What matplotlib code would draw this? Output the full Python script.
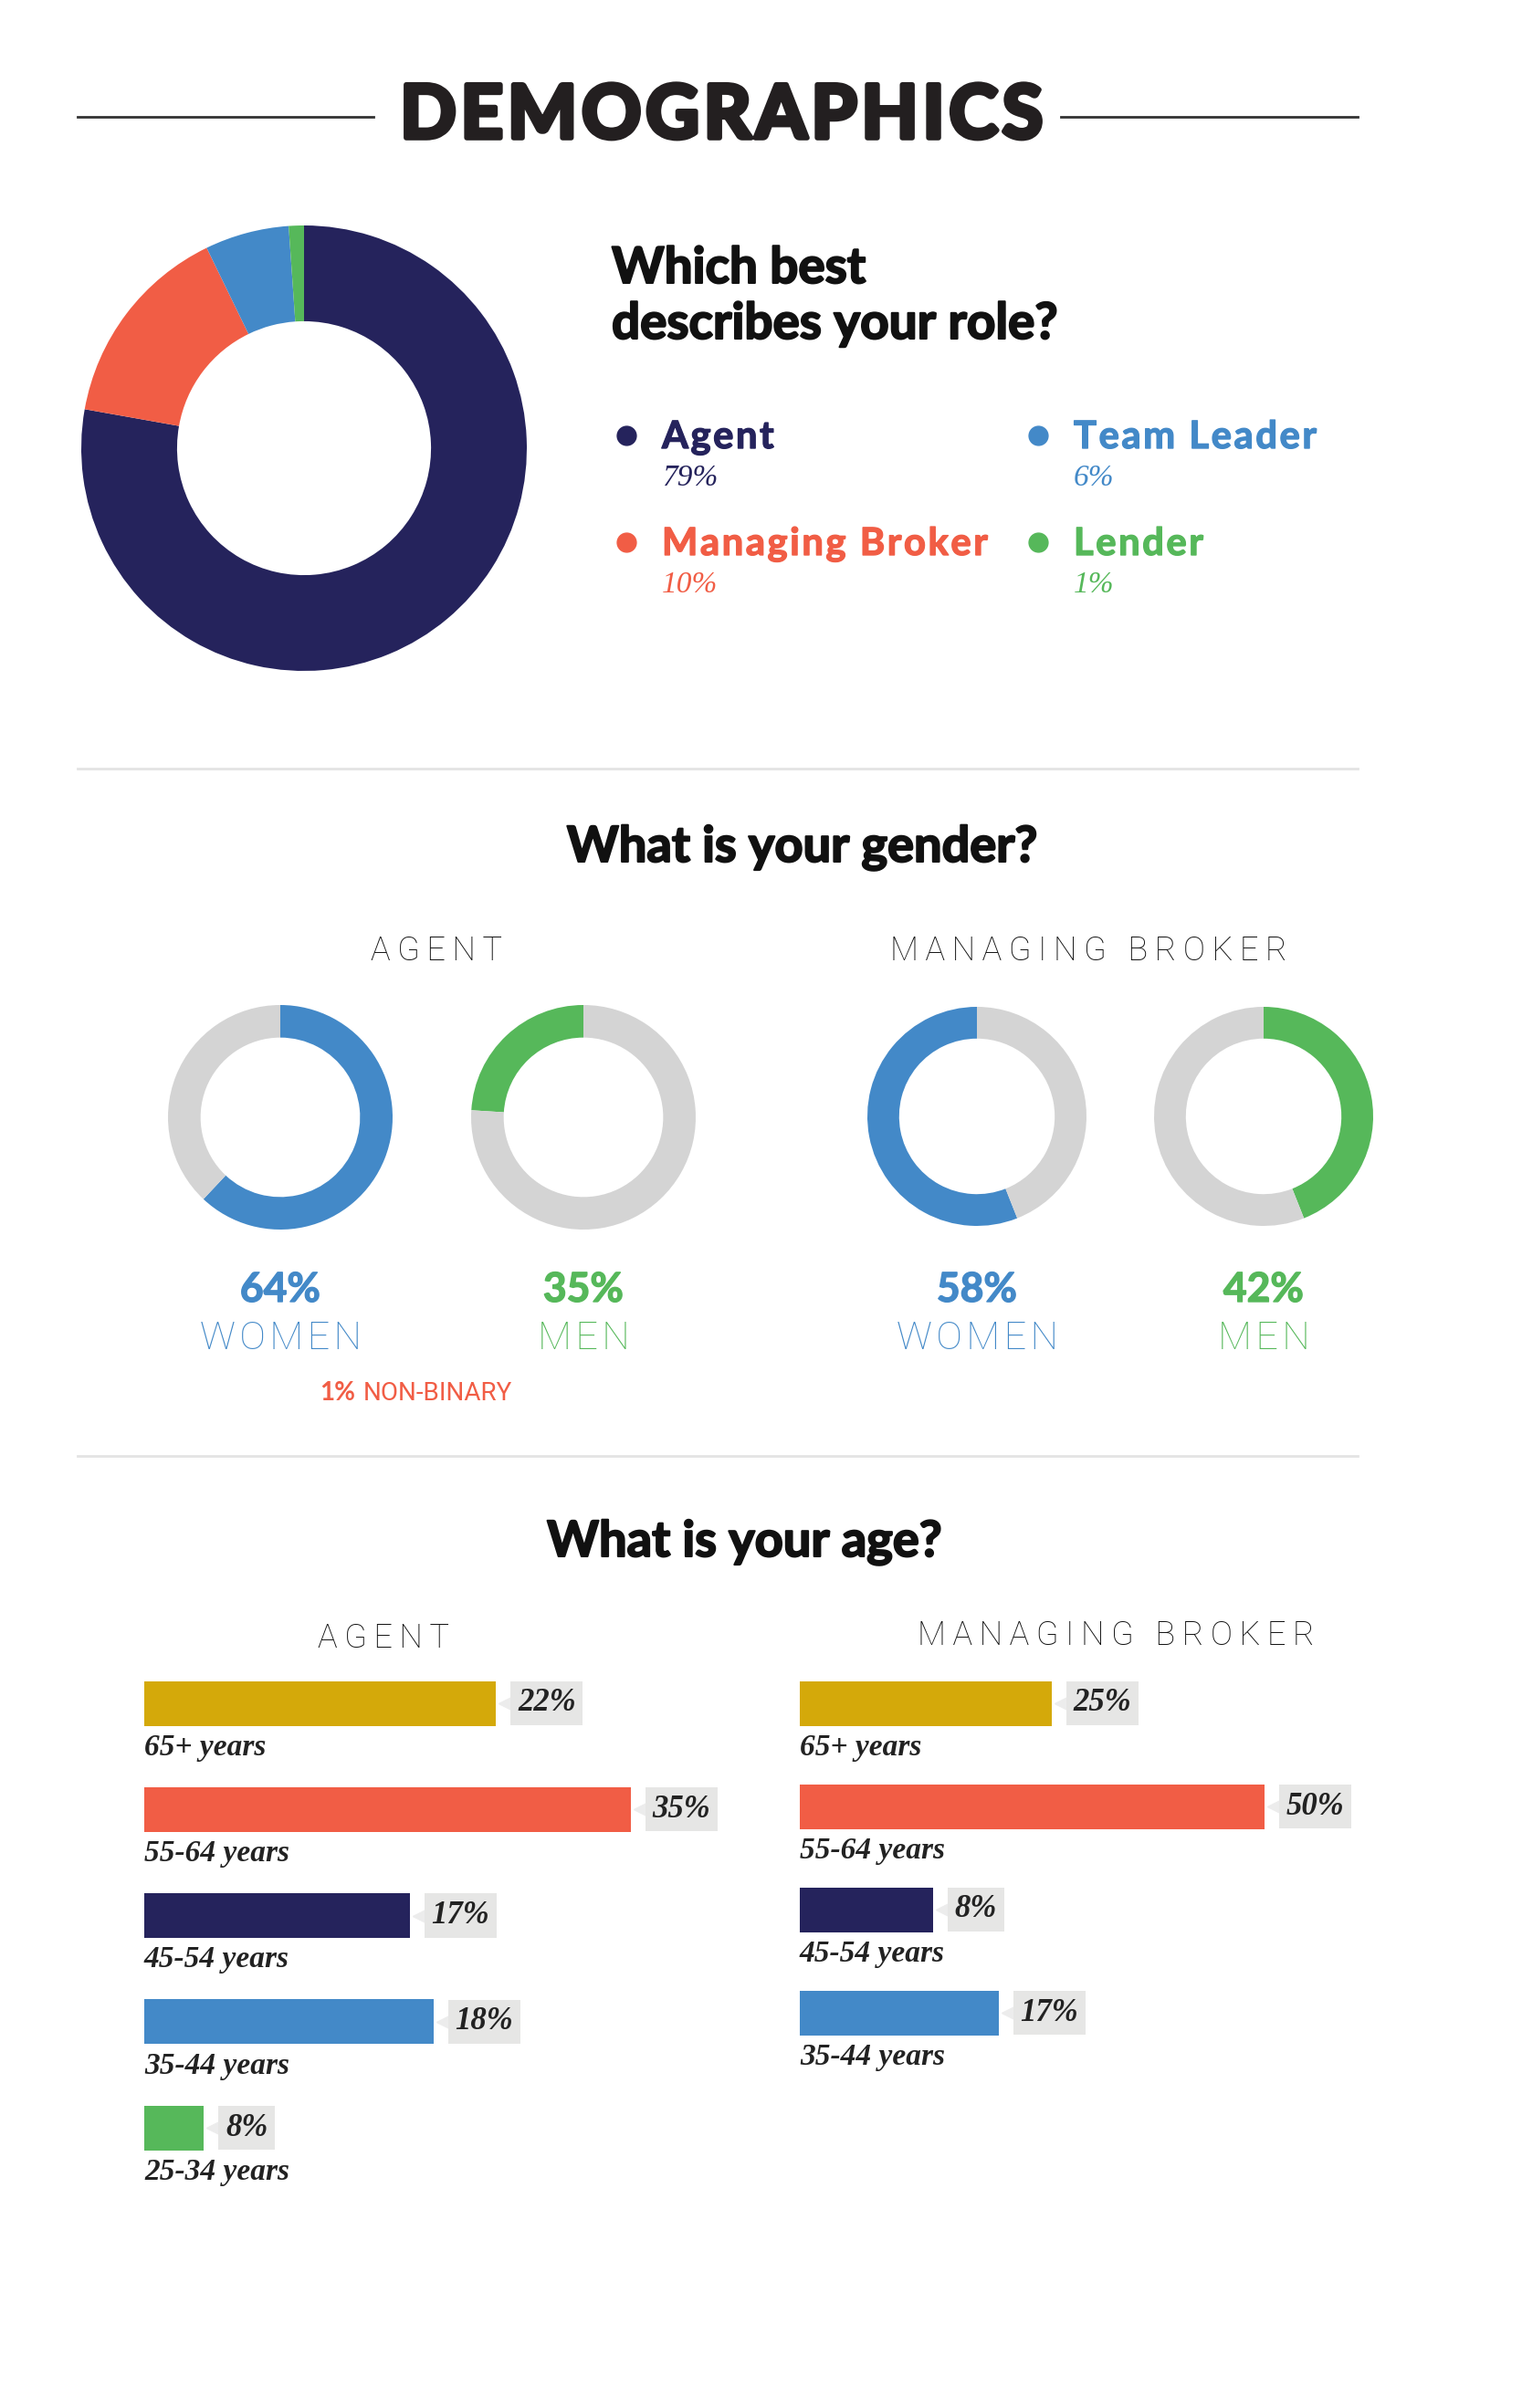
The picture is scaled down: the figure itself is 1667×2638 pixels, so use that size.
import matplotlib
matplotlib.use("Agg")
import matplotlib.pyplot as plt
from matplotlib.lines import Line2D
import matplotlib.patheffects as pe

W, H = 1667, 2638
SANS = ['Lato', 'DejaVu Sans']
LIGHT = ['Roboto', 'DejaVu Sans']
SERIF = ['Liberation Serif', 'DejaVu Serif']

navy = '#25235c'
red = '#f15d45'
blue = '#4389c8'
green = '#56b85a'
gold = '#d4a90a'
ring_gray = '#d4d4d4'
ink = '#111111'

# role question
roles = ['Agent', 'Managing Broker', 'Team Leader', 'Lender']
role_pct = [79, 10, 6, 1]
role_colors = [navy, red, blue, green]
# wedge shares as actually drawn in the source graphic
role_drawn = [77.8, 15.0, 6.1, 1.1]

# gender question
gender_groups = ['AGENT', 'MANAGING BROKER']
women_pct = [64, 58]
men_pct = [35, 42]
women_drawn = [62, 56]
men_drawn = [24, 44]
nonbinary_pct = 1

# age question
agent_ages = ['65+ years', '55-64 years', '45-54 years', '35-44 years', '25-34 years']
agent_age_pct = [22, 35, 17, 18, 8]
agent_age_bar = [25.3, 35.0, 19.1, 20.8, 4.3]   # bar lengths as drawn (not to scale)
broker_ages = ['65+ years', '55-64 years', '45-54 years', '35-44 years']
broker_age_pct = [25, 50, 8, 17]
broker_age_bar = [18.1, 33.4, 9.6, 14.3]
age_colors = [gold, red, navy, blue, green]

fig = plt.figure(figsize=(W / 100, H / 100), dpi=100)


def fx(x):
    return x / W


def fy(y):
    return 1 - y / H


def px_axes(x, y, w, h):
    return fig.add_axes([fx(x), fy(y + h), w / W, h / H])


def hline(x0, x1, y, color, lw):
    fig.add_artist(Line2D([fx(x0), fx(x1)], [fy(y), fy(y)], color=color, lw=lw))


def spaced(s, n=1):
    return ('\u200a' * n).join(s)


def heavy(w, color):
    return [pe.withStroke(linewidth=w, foreground=color)]


# title
fig.text(fx(790), fy(151), spaced('DEMOGRAPHICS'), ha='center', va='baseline',
         fontsize=58, weight='bold', family=SANS, color='#231f20',
         path_effects=heavy(4, '#231f20'))
hline(85, 409, 128, '#333333', 2)
hline(1162, 1487, 128, '#333333', 2)

# big donut
ax = px_axes(333 - 244, 491 - 244, 488, 488)
ax.pie(role_drawn, colors=role_colors, startangle=90, counterclock=False,
       radius=1, wedgeprops=dict(width=0.43, linewidth=0))
ax.set_xlim(-1, 1)
ax.set_ylim(-1, 1)
ax.axis('off')

for line, y in [('Which best', 310), ('describes your role?', 371)]:
    fig.text(fx(670), fy(y), line, fontsize=39.5, weight='bold', family=SANS,
             color=ink, va='baseline', path_effects=heavy(1.5, ink))

leg_x = [725, 1176]
leg_y = [491, 608]
for k, (name, pct, col) in enumerate(zip(roles, role_pct, role_colors)):
    cx = leg_x[k // 2]
    by = leg_y[k % 2]
    fig.add_artist(Line2D([fx(cx - 39)], [fy(by - 14)], marker='o', ms=15,
                          color=col, lw=0))
    fig.text(fx(cx), fy(by), spaced(name), fontsize=30, weight='bold',
             family=SANS, color=col, va='baseline', path_effects=heavy(1, col))
    fig.text(fx(cx), fy(by + 41), f'{pct}%', fontsize=24, style='italic',
             family=SERIF, color=col, va='baseline')

hline(85, 1487, 842, '#e3e3e3', 2)

# gender
fig.text(fx(878), fy(944), 'What is your gender?', ha='center', va='baseline',
         fontsize=39, weight='bold', family=SANS, color=ink,
         path_effects=heavy(1.5, ink))
sub_x = [478, 1192]
for g, x in zip(gender_groups, sub_x):
    fig.text(fx(x), fy(1052), spaced(g, 2), ha='center', va='baseline',
             fontsize=26, weight='light', family=LIGHT, color=ink)

donut_specs = [
    # (centre x, centre y, radius, drawn share, colour, clockwise, pct, label)
    (307, 1224, 123, women_drawn[0], blue, True, women_pct[0], 'WOMEN'),
    (639, 1224, 123, men_drawn[0], green, False, men_pct[0], 'MEN'),
    (1070, 1223, 120, women_drawn[1], blue, False, women_pct[1], 'WOMEN'),
    (1384, 1223, 120, men_drawn[1], green, True, men_pct[1], 'MEN'),
]
for cx, cy, r, share, col, cw, pct, lab in donut_specs:
    ax = px_axes(cx - r, cy - r, 2 * r, 2 * r)
    ax.pie([share, 100 - share], colors=[col, ring_gray], startangle=90,
           counterclock=not cw, radius=1,
           wedgeprops=dict(width=0.29, linewidth=0))
    ax.set_xlim(-1, 1)
    ax.set_ylim(-1, 1)
    ax.axis('off')
    fig.text(fx(cx), fy(1426), f'{pct}%', ha='center', va='baseline',
             fontsize=32, weight='bold', family=SANS, color=col,
             path_effects=heavy(1, col))
    fig.text(fx(cx), fy(1478), spaced(lab), ha='center', va='baseline',
             fontsize=31, weight='light', family=LIGHT, color=col)

fig.text(fx(350), fy(1534), f'{nonbinary_pct}%', va='baseline', fontsize=20,
         weight='bold', family=SANS, color=red)
fig.text(fx(398), fy(1534), 'NON-BINARY', va='baseline', fontsize=20,
         weight='normal', family=LIGHT, color=red)

hline(85, 1487, 1595, '#e3e3e3', 2)

# age
fig.text(fx(815), fy(1705), 'What is your age?', ha='center', va='baseline',
         fontsize=39, weight='bold', family=SANS, color=ink,
         path_effects=heavy(1.5, ink))
fig.text(fx(420), fy(1805), spaced('AGENT', 2), ha='center', va='baseline',
         fontsize=26, weight='light', family=LIGHT, color=ink)
fig.text(fx(1222), fy(1802), spaced('MANAGING BROKER', 2), ha='center',
         va='baseline', fontsize=26, weight='light', family=LIGHT, color=ink)

PX = 15.23      # pixels per bar unit
XMAX = 40
FS = 25
pad_px = 0.22 * FS / 0.72


def age_panel(left, first_center, step, groups, pct, bars):
    n = len(groups)
    ax = px_axes(left, first_center - step / 2, XMAX * PX, n * step)
    ax.set_xlim(0, XMAX)
    ax.set_ylim(n - 0.5, -0.5)
    ax.barh(range(n), bars, height=49 / step, color=age_colors[:n], linewidth=0)
    for i in range(n):
        ax.plot(bars[i] + 11 / PX, i, marker='<', ms=11, color='#ececec',
                lw=0, clip_on=False)
        ax.text(bars[i] + (16 + pad_px) / PX, i, f'{pct[i]}%', va='center',
                ha='left', fontsize=FS, style='italic', weight='bold',
                family=SERIF, color='#222222',
                bbox=dict(boxstyle='square,pad=0.22', fc='#e6e6e5', ec='none'))
        ax.text(0, i + 57 / step, groups[i], va='baseline', ha='left',
                fontsize=24, style='italic', weight='bold', family=SERIF,
                color='#222222')
    ax.axis('off')


age_panel(158, 1866, 116.25, agent_ages, agent_age_pct, agent_age_bar)
age_panel(876, 1866, 113, broker_ages, broker_age_pct, broker_age_bar)

fig.savefig('out.png', dpi=100, facecolor='white')
